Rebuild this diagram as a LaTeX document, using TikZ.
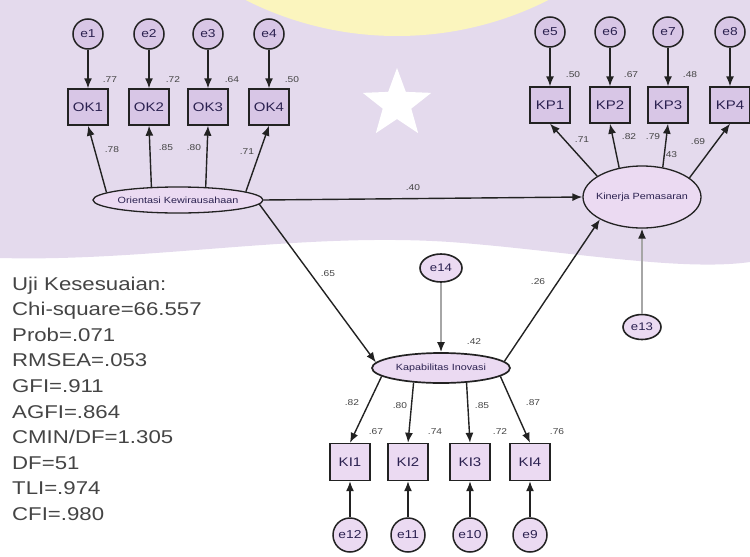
\documentclass[tikz,border=0pt]{standalone}
\usepackage{fontspec}
\setmainfont{Liberation Sans}
\newfontfamily\stfont[FakeStretch=1.2]{Liberation Sans}
\usetikzlibrary{shapes.geometric,arrows.meta}
\definecolor{bglav}{HTML}{E4DAED}
\definecolor{ylw}{HTML}{FBF5BE}
\definecolor{nodefill}{HTML}{D8C6E6}
\definecolor{lowfill}{HTML}{EBDAF2}
\definecolor{txtc}{HTML}{2B2150}
\definecolor{linec}{HTML}{222222}
\definecolor{fitc}{HTML}{444444}
\begin{document}
\begin{tikzpicture}[x=1pt,y=-1pt,
  errc/.style={circle,draw=linec,line width=1.5pt,fill=nodefill,minimum size=30pt,inner sep=0pt,font=\stfont\fontsize{11.5}{11.5}\selectfont,text=txtc},
  errlow/.style={errc,fill=lowfill,minimum size=34pt},
  errell/.style={ellipse,draw=linec,line width=1.6pt,fill=lowfill,inner sep=0pt,font=\stfont\fontsize{11}{11}\selectfont,text=txtc},
  obsbox/.style={rectangle,draw=linec,line width=1.4pt,fill=nodefill,minimum width=40pt,minimum height=36pt,inner sep=0pt,font=\stfont\fontsize{12.5}{12.5}\selectfont,text=txtc},
  obslow/.style={obsbox,fill=lowfill,minimum height=37pt},
  latell/.style={ellipse,draw=linec,line width=1.3pt,fill=lowfill,inner sep=0pt,font=\stfont\fontsize{9}{9}\selectfont,text=txtc},
  arr/.style={-{Latex[length=10pt,width=8pt]},line width=1.4pt,draw=linec},
  grayarr/.style={-{Latex[length=10pt,width=8pt,color=linec]},line width=1.6pt,draw=gray!70},
  lbl/.style={font=\stfont\fontsize{8.5}{8.5}\selectfont,text=fitc,inner sep=0pt},
  fitline/.style={font=\stfont\fontsize{18.5}{20}\selectfont,text=fitc,inner sep=0pt,anchor=base west}
]
\useasboundingbox (0,0) rectangle (750,557);
% watermark background
\begin{scope}
\clip (0,0) rectangle (750,557);
\fill[bglav] (0,0) -- (750,0) -- (750,262) .. controls (680,272) and (560,250) .. (450,242) .. controls (300,232) and (150,262) .. (0,258) -- cycle;
\fill[ylw] (397,-300) circle[radius=336pt];
\end{scope}
\node[star,star points=5,star point ratio=2.4,fill=white,minimum size=72pt,inner sep=0pt] (starmark) at (397,104) {};

% OK block
\foreach \x [count=\i] in {88,149,208,269}{
  \node[errc] (e\i) at (\x,34) {e\i};
  \node[obsbox] (OK\i) at (\x,107) {OK\i};
  \draw[arr] (e\i) -- (OK\i);
}
\node[latell,minimum width=170pt,minimum height=26pt] (OKlat) at (178,200) {\makebox[0pt]{Orientasi Kewirausahaan}};
\draw[arr] (OKlat.174) -- (OK1.south);
\draw[arr] (OKlat.154) -- (OK2.south);
\draw[arr] (OKlat.25) -- (OK3.south);
\draw[arr] (OKlat.7) -- (OK4.south);
\node[lbl] (l77) at (110,80) {.77};
\node[lbl] (l72) at (173,80) {.72};
\node[lbl] (l64) at (232,80) {.64};
\node[lbl] (l50) at (292,80) {.50};
\node[lbl] (l78) at (112,150) {.78};
\node[lbl] (l85) at (166,148) {.85};
\node[lbl] (l80) at (194,148) {.80};
\node[lbl] (l71) at (247,152) {.71};

% KP block
\foreach \x [count=\i from 5] in {550,610,668,730}{
  \node[errc] (e\i) at (\x,32) {e\i};
}
\foreach \x [count=\i] in {550,610,668,730}{
  \node[obsbox] (KP\i) at (\x,105) {KP\i};
}
\foreach \i/\j in {5/1,6/2,7/3,8/4}{ \draw[arr] (e\i) -- (KP\j); }
\node[latell,minimum width=118pt,minimum height=62pt] (KPlat) at (642,197) {\makebox[0pt]{Kinerja Pemasaran}};
\draw[arr] (KPlat.155) -- (KP1.south);
\draw[arr] (KPlat.128) -- (KP2.south);
\draw[arr] (KPlat.55) -- (KP3.south);
\draw[arr] (KPlat.22) -- (KP4.south);
\node[lbl] (l50b) at (573,75) {.50};
\node[lbl] (l67) at (631,75) {.67};
\node[lbl] (l48) at (690,75) {.48};
\node[lbl] (l71b) at (582,140) {.71};
\node[lbl] (l82b) at (629,137) {.82};
\node[lbl] (l79) at (653,137) {.79};
\node[lbl] (l43) at (670,155) {.43};
\node[lbl] (l69) at (698,142) {.69};

% structural paths
\draw[arr] (OKlat.east) -- (KPlat.west);
\node[lbl] (l40) at (413,188) {.40};

\node[latell,minimum width=138pt,minimum height=30pt,line width=1.7pt] (KIlat) at (441,368) {\makebox[0pt]{Kapabilitas Inovasi}};
\draw[arr] (OKlat.-3) -- (KIlat.175);
\node[lbl] (l65) at (328,274) {.65};
\draw[arr] (KIlat.6) -- (KPlat.208);
\node[lbl] (l26) at (538,282) {.26};

\node[errell,minimum width=42pt,minimum height=28pt] (e14) at (441,268) {e14};
\draw[grayarr] (e14) -- (KIlat);
\node[lbl] (l42) at (474,342) {.42};

\node[errell,minimum width=38pt,minimum height=25pt] (e13) at (642,327) {e13};
\draw[grayarr] (e13) -- (KPlat);

% KI block
\foreach \x/\e [count=\i] in {350/12,408/11,470/10,530/9}{
  \node[obslow] (KI\i) at (\x,462) {KI\i};
  \node[errlow] (e\e) at (\x,535) {e\e};
  \draw[arr] (e\e) -- (KI\i);
}
\draw[arr] (KIlat.188) -- (KI1.north);
\draw[arr] (KIlat.208) -- (KI2.north);
\draw[arr] (KIlat.330) -- (KI3.north);
\draw[arr] (KIlat.352) -- (KI4.north);
\node[lbl] (l82) at (352,403) {.82};
\node[lbl] (l80b) at (400,406) {.80};
\node[lbl] (l85b) at (482,406) {.85};
\node[lbl] (l87) at (533,403) {.87};
\node[lbl] (l67b) at (376,432) {.67};
\node[lbl] (l74) at (435,432) {.74};
\node[lbl] (l72b) at (500,432) {.72};
\node[lbl] (l76) at (557,432) {.76};

% fit indices
\foreach \t [count=\i] in {Uji Kesesuaian:,Chi-square=66.557,Prob=.071,RMSEA=.053,GFI=.911,AGFI=.864,CMIN/DF=1.305,DF=51,TLI=.974,CFI=.980}{
  \node[fitline] (fit\i) at (12,{290+(\i-1)*25.6}) {\t};
}
\end{tikzpicture}
\end{document}
